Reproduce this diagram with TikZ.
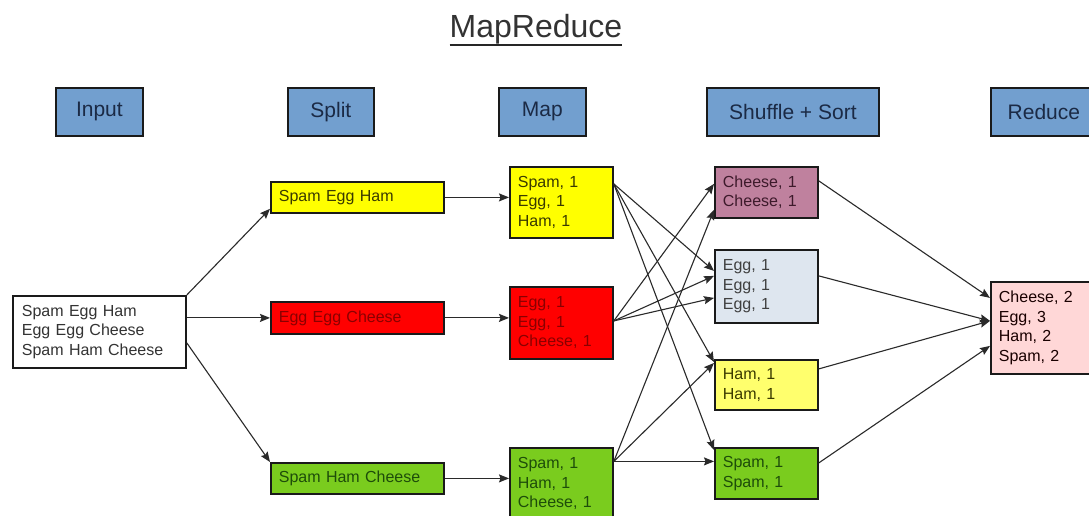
\documentclass[tikz,border=0pt]{standalone}
\usepackage{fontspec}
\setmainfont{Liberation Sans}
\usetikzlibrary{arrows.meta,calc}
\definecolor{hdrblue}{HTML}{729FCF}
\definecolor{hdrtext}{HTML}{1B2A45}
\definecolor{yel}{HTML}{FFFF00}
\definecolor{yeltext}{HTML}{3A3A00}
\definecolor{redf}{HTML}{FF0000}
\definecolor{redtext}{HTML}{8A0000}
\definecolor{grn}{HTML}{7ACC1E}
\definecolor{grntext}{HTML}{1E4D0A}
\definecolor{purp}{HTML}{BF819E}
\definecolor{purptext}{HTML}{3D1A2B}
\definecolor{eggf}{HTML}{DEE6EF}
\definecolor{hamf}{HTML}{FFFF6D}
\definecolor{pinkf}{HTML}{FFD7D7}
\definecolor{edge}{HTML}{1A1A1A}
\definecolor{arrcol}{HTML}{2A2A2A}
\tikzset{
  hdr/.style={draw=edge, fill=hdrblue, line width=1.8pt, minimum height=48pt,
    anchor=north west, inner sep=0pt, text=hdrtext, font=\fontsize{21}{24}\selectfont},
  bx/.style={draw=edge, line width=1.8pt, inner ysep=0pt, inner xsep=8pt,
    align=left, anchor=north west, text=black!80, font=\fontsize{16}{19.5}\selectfont},
  arr/.style={draw=arrcol, line width=1.1pt, -{Stealth[length=10pt,width=8pt,inset=1.5pt]}}
}
\begin{document}
\begin{tikzpicture}[x=1pt,y=-1pt]
\useasboundingbox (0,0) rectangle (1089,516);
\clip (0,0) rectangle (1089,516);
\fill[white] (0,0) rectangle (1089,516);

% title
\node[font=\fontsize{32}{36}\selectfont, text=black!80, inner sep=0pt, anchor=base] (title) at (536,38) {MapReduce};
\draw[black!85, line width=1.5pt] ([yshift=-7pt]title.base west) -- ([yshift=-7pt]title.base east);

% headers
\node[hdr, minimum width=87pt] (hin) at (55,87) {Input};
\node[hdr, minimum width=86pt] (hsp) at (287,87) {Split};
\node[hdr, minimum width=87pt] (hmp) at (498,87) {Map};
\node[hdr, minimum width=172pt] (hsh) at (706,87) {Shuffle + Sort};
\node[hdr, minimum width=106pt] (hrd) at (990,87) {Reduce};

% input
\node[bx, fill=white, text width=155pt, minimum height=72pt, inner xsep=9pt] (in) at (12,295) {Spam Egg Ham\\Egg Egg Cheese\\Spam Ham Cheese};

% split
\node[bx, fill=yel, text=yeltext, text width=157pt, minimum height=31pt] (sy) at (270,181) {Spam Egg Ham};
\node[bx, fill=redf, text=redtext, text width=157pt, minimum height=32pt] (sr) at (270,301) {Egg Egg Cheese};
\node[bx, fill=grn, text=grntext, text width=157pt, minimum height=31pt] (sg) at (270,462) {Spam Ham Cheese};

% map
\node[bx, fill=yel, text=yeltext, text width=87pt, minimum height=71pt] (my) at (509,166) {Spam, 1\\Egg, 1\\Ham, 1};
\node[bx, fill=redf, text=redtext, text width=87pt, minimum height=72pt] (mr) at (509,286) {Egg, 1\\Egg, 1\\Cheese, 1};
\node[bx, fill=grn, text=grntext, text width=87pt, minimum height=72pt] (mg) at (509,447) {Spam, 1\\Ham, 1\\Cheese, 1};

% shuffle
\node[bx, fill=purp, text=purptext, text width=87pt, minimum height=51pt] (sc) at (714,166) {Cheese, 1\\Cheese, 1};
\node[bx, fill=eggf, text=black!75, text width=87pt, minimum height=73pt] (se) at (714,249) {Egg, 1\\Egg, 1\\Egg, 1};
\node[bx, fill=hamf, text=yeltext, text width=87pt, minimum height=50pt] (sh) at (714,359) {Ham, 1\\Ham, 1};
\node[bx, fill=grn, text=grntext, text width=87pt, minimum height=51pt] (ss) at (714,447) {Spam, 1\\Spam, 1};

% reduce
\node[bx, fill=pinkf, text=black!75!red!40!black, text width=94pt, minimum height=92pt] (rd) at (990,281) {Cheese, 2\\Egg, 3\\Ham, 2\\Spam, 2};

% input -> split
\draw[arr] (in.north east) -- ([yshift=5pt]sy.south west);
\draw[arr] (in.east |- sr.west) -- (sr.west);
\draw[arr] ([yshift=-11pt]in.east) -- (sg.north west);

% split -> map
\draw[arr] (sy.east) -- (sy.east -| my.west);
\draw[arr] (sr.east) -- (sr.east -| mr.west);
\draw[arr] (sg.east) -- (sg.east -| mg.west);

% map -> shuffle
\coordinate (a1) at ([yshift=18.5pt]my.east);
\coordinate (a2) at ([yshift=2pt]mr.east);
\coordinate (a3) at ([yshift=22.5pt]mg.east);
\draw[arr] (a1) -- ([yshift=15.5pt]se.west);
\draw[arr] (a1) -- ([yshift=-3pt]sh.north west);
\draw[arr] (a1) -- ([yshift=-3pt]ss.north west);
\draw[arr] (a2) -- ([yshift=8.5pt]sc.west);
\draw[arr] (a2) -- ([yshift=10.5pt]se.west);
\draw[arr] (a2) -- ([yshift=-11.5pt]se.west);
\draw[arr] (a3) -- ([yshift=9pt]sc.south west);
\draw[arr] (a3) -- ([yshift=-4pt]sh.north west);
\draw[arr] (a3) -- (a3 -| ss.west);

% shuffle -> reduce
\draw[arr] ([yshift=11.5pt]sc.east) -- ([yshift=30pt]rd.west);
\draw[arr] ([yshift=10.5pt]se.east) -- ([yshift=7pt]rd.west);
\draw[arr] ([yshift=16pt]sh.east) -- ([yshift=7pt]rd.west);
\draw[arr] ([yshift=10.5pt]ss.east) -- ([yshift=-18pt]rd.west);
\end{tikzpicture}
\end{document}
